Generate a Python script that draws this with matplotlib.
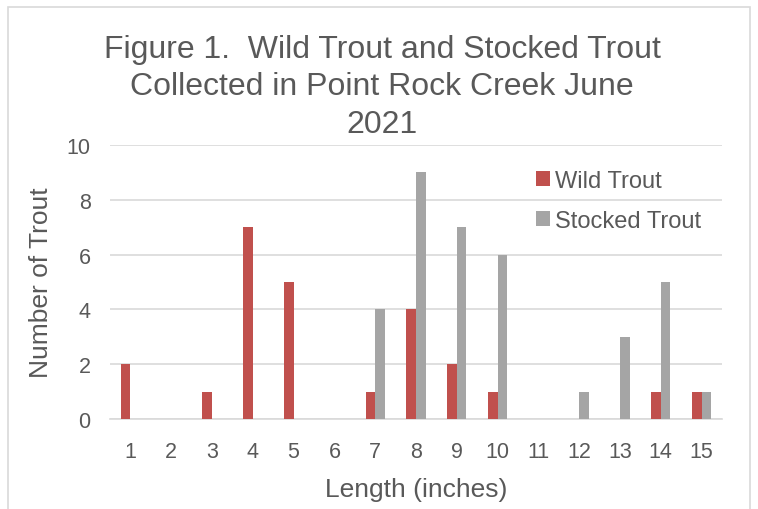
import numpy as np
import matplotlib
matplotlib.use("Agg")
import matplotlib.pyplot as plt
from matplotlib.patches import Rectangle

plt.rcParams['font.family'] = ['Liberation Sans', 'DejaVu Sans']

lengths = list(range(1, 16))
wild = [2, 0, 1, 7, 5, 0, 1, 4, 2, 1, 0, 0, 0, 1, 1]
stocked = [0, 0, 0, 0, 0, 0, 4, 9, 7, 6, 0, 1, 3, 5, 1]

txt = '#595959'
grid = '#D9D9D9'

fig = plt.figure(figsize=(7.58, 5.1), dpi=100)
ax = fig.add_axes([110/758, 1-420/510, 612/758, 274/510])

x = np.arange(len(lengths))
w = 0.235
ax.bar(x - w/2, wild, w, color='#C0504D', label='Wild Trout', zorder=3)
ax.bar(x + w/2, stocked, w, color='#A5A5A5', label='Stocked Trout', zorder=3)

ax.set_xlim(-0.5, len(lengths) - 0.5)
ax.set_ylim(0, 10)
ax.set_yticks(range(0, 11, 2))
ax.set_xticks(x)
ax.set_xticklabels([str(v) for v in lengths])
ax.yaxis.grid(True, color=grid, linewidth=1.2, zorder=0)
for s in ['top', 'right', 'left']:
    ax.spines[s].set_visible(False)
ax.spines['bottom'].set_color(grid)
ax.spines['bottom'].set_linewidth(1.2)
ax.tick_params(length=0, labelsize=15.5, labelcolor=txt)
ax.tick_params(axis='x', pad=16)
ax.tick_params(axis='y', pad=14)

ax.set_xlabel('Length (inches)', fontsize=19, color=txt, labelpad=11)
ax.set_ylabel('Number of Trout', fontsize=19, color=txt, labelpad=10)

fig.text(382/758, 1-35/510,
         'Figure 1.  Wild Trout and Stocked Trout\nCollected in Point Rock Creek June\n2021',
         ha='center', va='top', fontsize=23, color=txt, linespacing=1.32)

leg = ax.legend(loc='upper left', bbox_to_anchor=(515/758, 1-150/510),
                bbox_transform=fig.transFigure, frameon=False, fontsize=17,
                handlelength=0.6, handleheight=0.6, handletextpad=0.2,
                labelspacing=0.75)
for t in leg.get_texts():
    t.set_color(txt)

fig.add_artist(Rectangle((8/758, -0.01), 742/758, 1 - 8/510 + 0.01,
                         transform=fig.transFigure, fill=False,
                         edgecolor=grid, linewidth=1.2))

fig.savefig('out.png', dpi=100)
